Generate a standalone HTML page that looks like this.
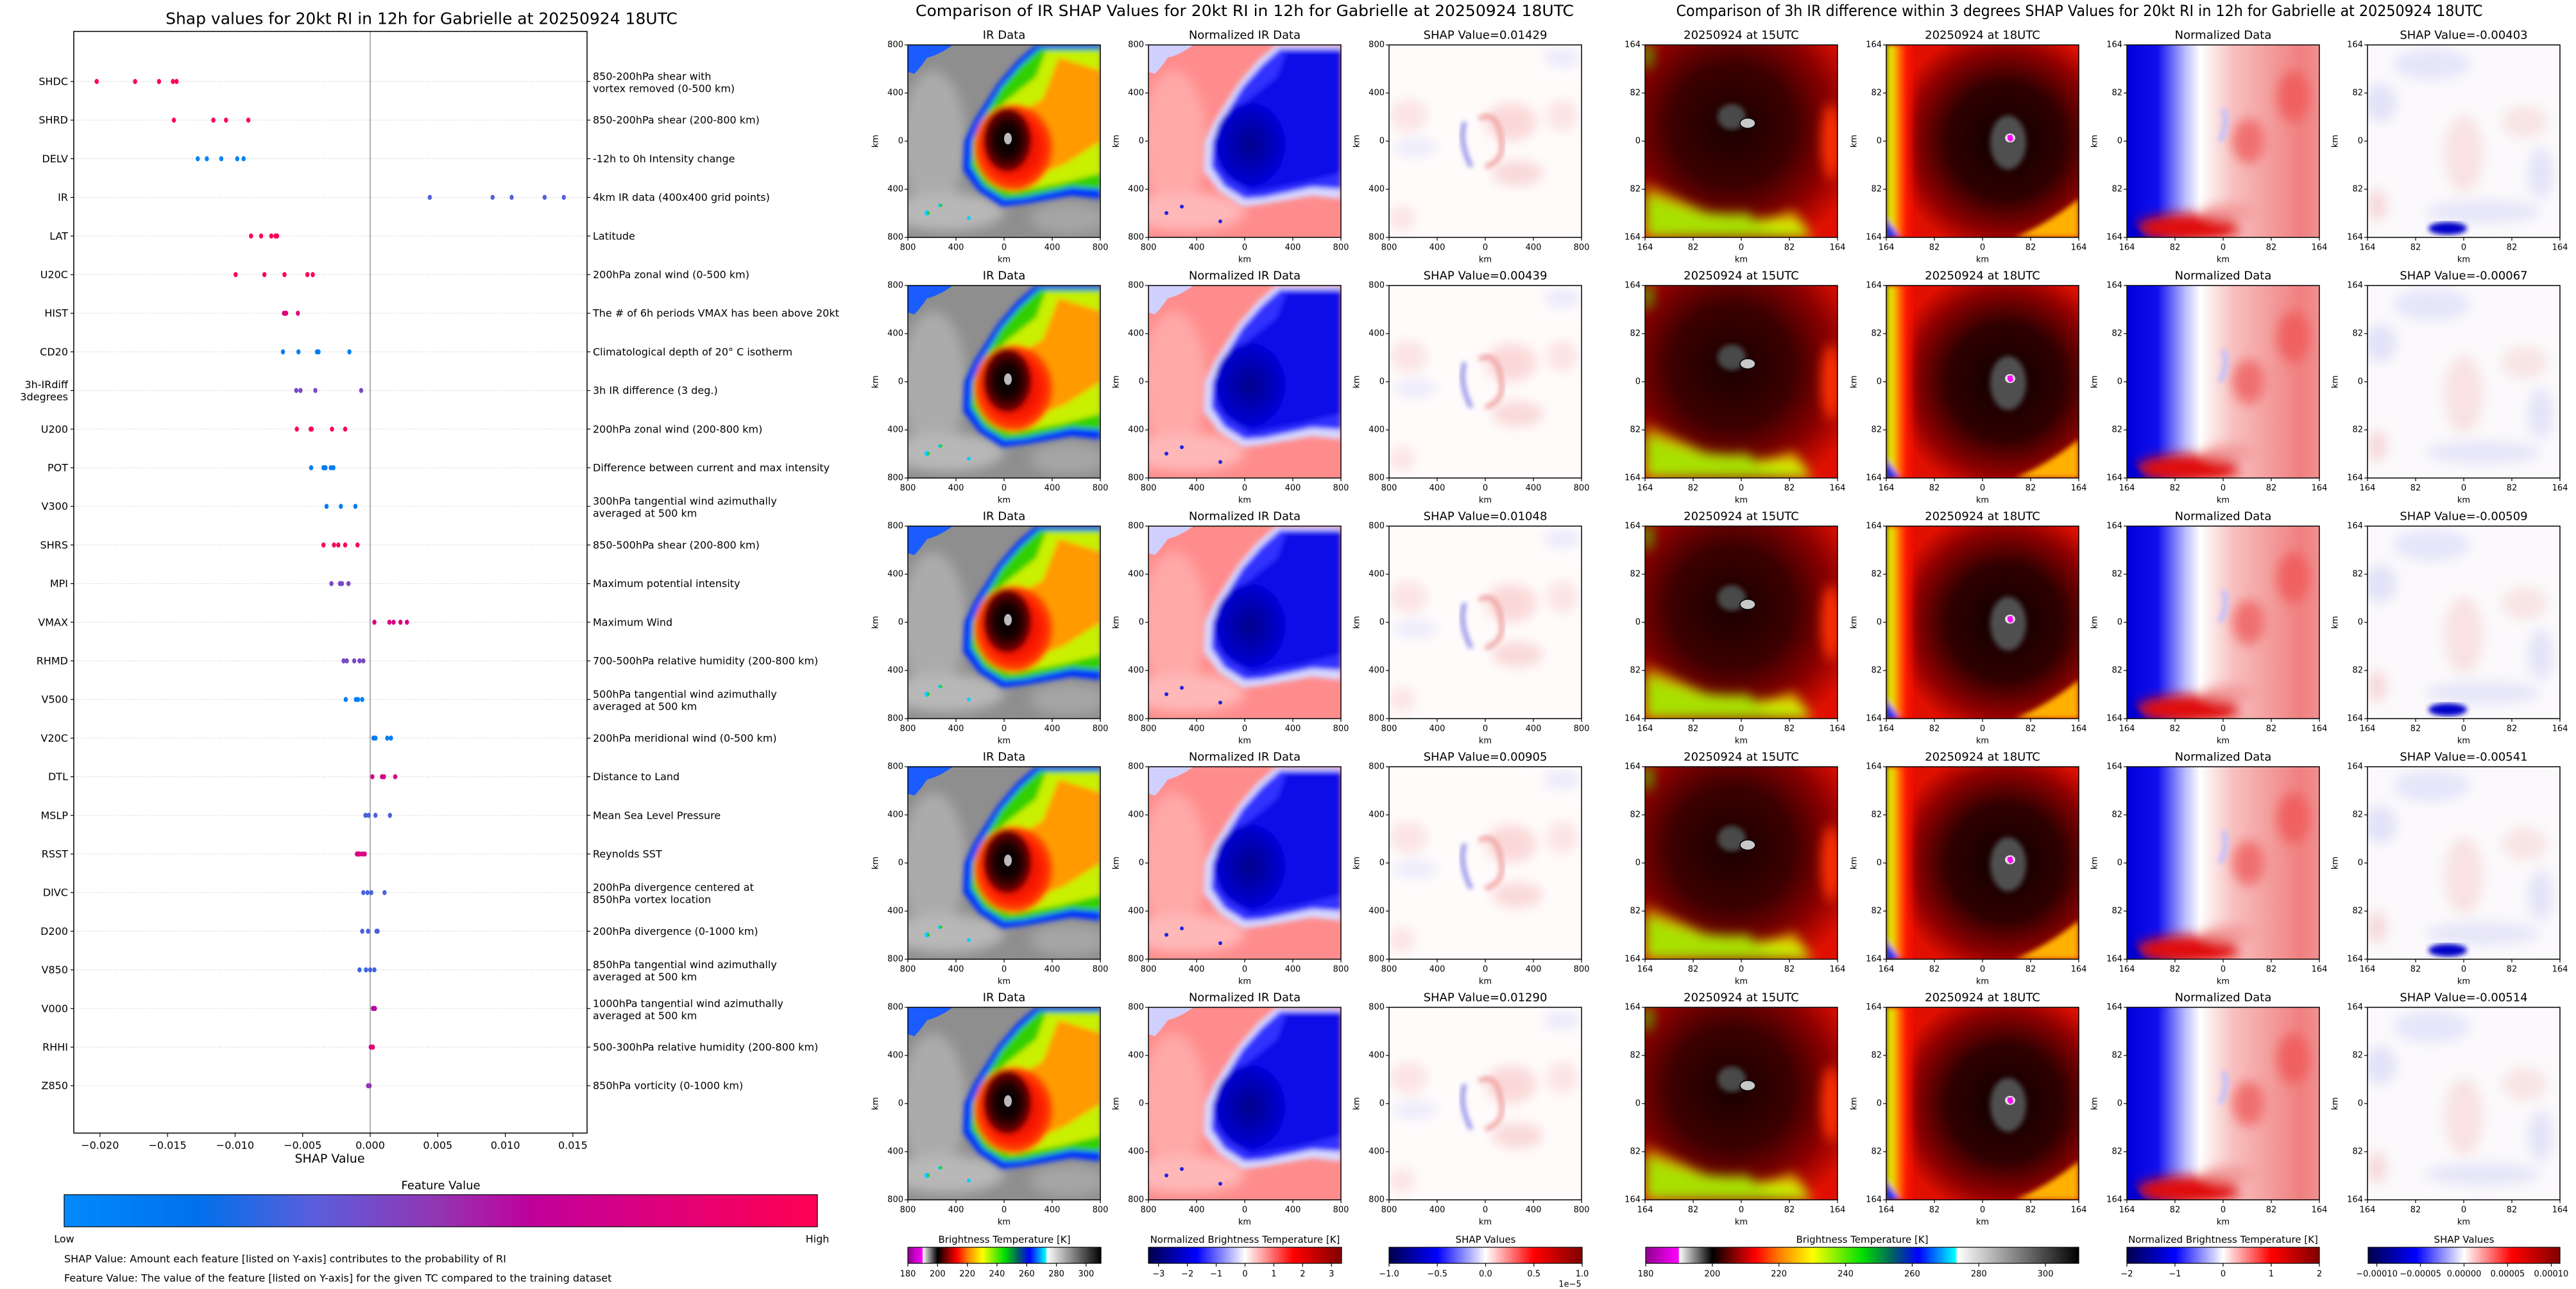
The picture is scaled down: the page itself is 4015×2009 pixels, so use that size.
<!DOCTYPE html>
<html><head><meta charset="utf-8"><title>Gabrielle SHAP</title>
<style>
html,body{margin:0;padding:0;background:#fff;}
svg{display:block;font-family:"DejaVu Sans","Liberation Sans",sans-serif;}
</style></head>
<body>
<svg id="fig" xmlns="http://www.w3.org/2000/svg" width="4015" height="2009" viewBox="0 0 4015 2009">
<defs>
<filter id="soft" x="-10%" y="-10%" width="120%" height="120%"><feGaussianBlur stdDeviation="4"/></filter>
<filter id="soft2" x="-10%" y="-10%" width="120%" height="120%"><feGaussianBlur stdDeviation="9"/></filter>
<linearGradient id="fvGrad" x1="0" x2="1" y1="0" y2="0">
<stop offset="0" stop-color="#008afb"/><stop offset="0.18" stop-color="#0070ea"/><stop offset="0.33" stop-color="#5a5edc"/><stop offset="0.5" stop-color="#9434b0"/><stop offset="0.62" stop-color="#c0009b"/><stop offset="0.8" stop-color="#e0007a"/><stop offset="1" stop-color="#ff0052"/>
</linearGradient>
<linearGradient id="btGrad" x1="0" x2="1" y1="0" y2="0">
<stop offset="0" stop-color="#900090"/><stop offset="0.076" stop-color="#ff00ff"/><stop offset="0.077" stop-color="#ffffff"/><stop offset="0.154" stop-color="#000000"/><stop offset="0.19" stop-color="#600000"/><stop offset="0.254" stop-color="#ff0000"/><stop offset="0.31" stop-color="#ff8000"/><stop offset="0.385" stop-color="#ffff00"/><stop offset="0.5" stop-color="#00e000"/><stop offset="0.57" stop-color="#006060"/><stop offset="0.63" stop-color="#0000ff"/><stop offset="0.715" stop-color="#00ffff"/><stop offset="0.72" stop-color="#ffffff"/><stop offset="1" stop-color="#000000"/>
</linearGradient>
<linearGradient id="seis" x1="0" x2="1" y1="0" y2="0">
<stop offset="0" stop-color="#00004c"/><stop offset="0.25" stop-color="#0000ff"/><stop offset="0.5" stop-color="#ffffff"/><stop offset="0.75" stop-color="#ff0000"/><stop offset="1" stop-color="#800000"/>
</linearGradient>
<radialGradient id="eyeGrad"><stop offset="0" stop-color="#000"/><stop offset="0.55" stop-color="#1a0000"/><stop offset="1" stop-color="#8a0000"/></radialGradient>
<radialGradient id="redCore"><stop offset="0" stop-color="#d00000"/><stop offset="0.75" stop-color="#ff2000"/><stop offset="1" stop-color="#ff6000"/></radialGradient>
<radialGradient id="nCore"><stop offset="0" stop-color="#00008a"/><stop offset="1" stop-color="#0000d8"/></radialGradient>
<radialGradient id="dark15" cx="0.45" cy="0.42" r="0.7"><stop offset="0" stop-color="#1a0000"/><stop offset="0.45" stop-color="#3c0000"/><stop offset="0.75" stop-color="#8a0000"/><stop offset="1" stop-color="#e01000"/></radialGradient>
<radialGradient id="dark18" cx="0.62" cy="0.5" r="0.6"><stop offset="0" stop-color="#100000"/><stop offset="0.5" stop-color="#300000"/><stop offset="0.8" stop-color="#900000"/><stop offset="1" stop-color="#e01000"/></radialGradient>
<linearGradient id="left18" x1="0" x2="1"><stop offset="0" stop-color="#60e000"/><stop offset="0.06" stop-color="#f0f000"/><stop offset="0.15" stop-color="#ff8000"/><stop offset="0.25" stop-color="#ff1000"/><stop offset="0.4" stop-color="#ff100000"/></linearGradient>
<linearGradient id="normR" x1="0" x2="1"><stop offset="0" stop-color="#0000d8"/><stop offset="0.16" stop-color="#1010f0"/><stop offset="0.3" stop-color="#b8b8ff"/><stop offset="0.38" stop-color="#ffffff"/><stop offset="0.55" stop-color="#f8c0c0"/><stop offset="0.9" stop-color="#f08080"/><stop offset="1" stop-color="#f09090"/></linearGradient>
<linearGradient id="ylw" x1="0" y1="1" x2="0.4" y2="0"><stop offset="0" stop-color="#40e000"/><stop offset="0.5" stop-color="#e0f000"/><stop offset="1" stop-color="#ff600000"/></linearGradient>

<symbol id="ir" viewBox="0 0 300 300">
<rect width="300" height="300" fill="#8e8e8e"/>
<g filter="url(#soft2)"><ellipse cx="40" cy="150" rx="50" ry="110" fill="#ababab"/><ellipse cx="60" cy="260" rx="90" ry="30" fill="#b8b8b8"/><ellipse cx="250" cy="270" rx="60" ry="25" fill="#a5a5a5"/></g>
<path d="M0 0H70Q50 15 30 20Q20 35 10 45L0 42Z" fill="#1a5cff"/>
<g filter="url(#soft)">
<path d="M199 0H300V240L255 235L180 248L147 252L110 228L86 196L88 150L103 118L140 60L170 25Z" fill="#0030ff"/>
<path d="M205 6H300V225L255 222L180 238L150 240L118 220L98 190L100 150L112 122L146 66L176 32Z" fill="#30d000"/>
<path d="M215 10H300V200L240 215L160 230L130 210L112 180L118 140L150 90L200 50Z" fill="#c8f000"/>
<path d="M235 20L300 40V150L245 185L175 215L140 195L130 160L155 115L210 85Z" fill="#ff9a00"/>
<ellipse cx="165" cy="160" rx="62" ry="68" fill="url(#redCore)"/>
<ellipse cx="155" cy="148" rx="38" ry="50" fill="url(#eyeGrad)"/>
</g>
<ellipse cx="156" cy="146" rx="6" ry="9" fill="#bbb"/>
<g fill="#00d0ff"><circle cx="30" cy="262" r="4"/><circle cx="50" cy="250" r="3"/><circle cx="95" cy="270" r="3"/></g>
<g fill="#30d000"><circle cx="32" cy="262" r="2"/><circle cx="52" cy="250" r="2"/></g>
</symbol>

<symbol id="nir" viewBox="0 0 300 300">
<rect width="300" height="300" fill="#ff8c8c"/>
<g filter="url(#soft2)"><ellipse cx="40" cy="150" rx="50" ry="110" fill="#ffa8a8"/><ellipse cx="60" cy="260" rx="90" ry="30" fill="#ffb8b8"/></g>
<path d="M0 0H70Q50 15 30 20Q20 35 10 45L0 42Z" fill="#d0d0ff"/>
<g filter="url(#soft)">
<path d="M199 0H300V240L255 235L180 248L147 252L110 228L86 196L88 150L103 118L140 60L170 25Z" fill="#d8d8ff"/>
<path d="M205 6H300V225L255 222L180 238L150 240L118 220L98 190L100 150L112 122L146 66L176 32Z" fill="#3030ff"/>
<path d="M215 10H300V200L240 215L160 230L130 210L112 180L118 140L150 90L200 50Z" fill="#0808e8"/>
<ellipse cx="158" cy="155" rx="55" ry="65" fill="url(#nCore)"/>
</g>
<g fill="#2020e0"><circle cx="28" cy="262" r="3"/><circle cx="52" cy="252" r="3"/><circle cx="112" cy="275" r="3"/></g>
</symbol>

<symbol id="shapm" viewBox="0 0 300 300">
<rect width="300" height="300" fill="#fffbfb"/>
<g filter="url(#soft2)" opacity="0.8">
<ellipse cx="190" cy="120" rx="40" ry="30" fill="#fad0d0"/>
<ellipse cx="30" cy="110" rx="30" ry="25" fill="#fbdede"/>
<ellipse cx="270" cy="110" rx="25" ry="25" fill="#fbdede"/>
<ellipse cx="200" cy="200" rx="40" ry="20" fill="#f8d0d0"/>
<ellipse cx="40" cy="160" rx="35" ry="15" fill="#e8e8fb"/>
<ellipse cx="270" cy="20" rx="30" ry="15" fill="#e6e6fb"/>
<ellipse cx="20" cy="270" rx="20" ry="20" fill="#fbdede"/>
</g>
<g filter="url(#soft)"><path d="M118 120Q108 150 128 190" stroke="#8080e8" stroke-width="6" fill="none"/><path d="M140 115Q170 100 175 150Q180 180 150 190" stroke="#f0a0a0" stroke-width="7" fill="none"/></g>
</symbol>

<symbol id="t15" viewBox="0 0 300 300">
<rect width="300" height="300" fill="#e01000"/>
<rect width="300" height="300" fill="url(#dark15)"/>
<g filter="url(#soft2)"><path d="M0 210Q60 250 120 270Q200 280 230 255L260 300H0Z" fill="url(#ylw)"/><path d="M0 230Q80 270 160 262L200 300H0Z" fill="#a8e000"/><path d="M0 0H10V30L0 40Z" fill="#40e000"/><ellipse cx="290" cy="150" rx="15" ry="60" fill="#ff3000"/></g>
<g filter="url(#soft)"><ellipse cx="135" cy="112" rx="22" ry="20" fill="#4a4a4a"/></g>
<ellipse cx="160" cy="122" rx="12" ry="8" fill="#c8c8c8" stroke="#000" stroke-width="1.5"/>
</symbol>

<symbol id="t18" viewBox="0 0 300 300">
<rect width="300" height="300" fill="#e01000"/>
<rect width="300" height="300" fill="url(#dark18)"/>
<g filter="url(#soft)"><rect width="120" height="300" fill="url(#left18)"/><path d="M0 270L0 300H20Z" fill="#0040ff"/><path d="M300 240V300H200Q250 280 300 240Z" fill="#ffb000"/></g>
<g filter="url(#soft)"><ellipse cx="190" cy="152" rx="28" ry="42" fill="#505050"/></g>
<ellipse cx="193" cy="145" rx="8" ry="7" fill="#e0e0e0"/>
<path d="M189 141L196 140L198 148L193 151L189 147Z" fill="#ff00ff"/>
</symbol>

<symbol id="nd" viewBox="0 0 300 300">
<rect width="300" height="300" fill="url(#normR)"/>
<g filter="url(#soft2)"><ellipse cx="95" cy="285" rx="80" ry="22" fill="#e01010"/><ellipse cx="260" cy="80" rx="25" ry="40" fill="#f06060"/><ellipse cx="190" cy="150" rx="25" ry="35" fill="#f07070"/><ellipse cx="160" cy="260" rx="40" ry="12" fill="#f29a9a"/></g>
<g filter="url(#soft)"><path d="M0 250Q10 290 30 300H0Z" fill="#0000d0"/><path d="M150 100Q160 120 145 150" stroke="#c0c0ff" stroke-width="8" fill="none"/></g>
</symbol>

<symbol id="shr" viewBox="0 0 300 300">
<rect width="300" height="300" fill="#fbf9fb"/>
<g filter="url(#soft2)" opacity="0.9">
<ellipse cx="100" cy="30" rx="60" ry="25" fill="#e4e4fa"/><ellipse cx="20" cy="90" rx="25" ry="30" fill="#e0e0f8"/><ellipse cx="150" cy="170" rx="30" ry="60" fill="#f8e0e0"/><ellipse cx="245" cy="120" rx="35" ry="25" fill="#f8e2e2"/><ellipse cx="180" cy="260" rx="90" ry="18" fill="#e4e4f8"/><ellipse cx="270" cy="200" rx="20" ry="40" fill="#e2e2f8"/><ellipse cx="15" cy="250" rx="15" ry="25" fill="#f6d6d6"/>
</g>
</symbol>
<symbol id="shrblob" viewBox="0 0 300 300"><g filter="url(#soft)"><ellipse cx="125" cy="286" rx="30" ry="10" fill="#0000c8"/></g></symbol>
</defs>
<rect width="4015" height="2009" fill="#fff"/>
<g id="left"></g>
<g id="mid"></g>
<g id="right"></g>
</svg>
<script>
const features=["SHDC","SHRD","DELV","IR","LAT","U20C","HIST","CD20","3h-IRdiff\n3degrees","U200","POT","V300","SHRS","MPI","VMAX","RHMD","V500","V20C","DTL","MSLP","RSST","DIVC","D200","V850","V000","RHHI","Z850"];
const descriptions=["850-200hPa shear with\nvortex removed (0-500 km)","850-200hPa shear (200-800 km)","-12h to 0h Intensity change","4km IR data (400x400 grid points)","Latitude","200hPa zonal wind (0-500 km)","The # of 6h periods VMAX has been above 20kt","Climatological depth of 20° C isotherm","3h IR difference (3 deg.)","200hPa zonal wind (200-800 km)","Difference between current and max intensity","300hPa tangential wind azimuthally\naveraged at 500 km","850-500hPa shear (200-800 km)","Maximum potential intensity","Maximum Wind","700-500hPa relative humidity (200-800 km)","500hPa tangential wind azimuthally\naveraged at 500 km","200hPa meridional wind (0-500 km)","Distance to Land","Mean Sea Level Pressure","Reynolds SST","200hPa divergence centered at\n850hPa vortex location","200hPa divergence (0-1000 km)","850hPa tangential wind azimuthally\naveraged at 500 km","1000hPa tangential wind azimuthally\naveraged at 500 km","500-300hPa relative humidity (200-800 km)","850hPa vorticity (0-1000 km)"];
const shapValues=[
[-0.02024,-0.0174,-0.01563,-0.0146,-0.01433],
[-0.01453,-0.01161,-0.01067,-0.00902],
[-0.01276,-0.01209,-0.01102,-0.00984,-0.00937],
[0.00441,0.00906,0.01047,0.01291,0.01433],
[-0.00882,-0.00807,-0.00732,-0.00701,-0.00689],
[-0.00996,-0.00783,-0.00634,-0.00465,-0.00425],
[-0.00638,-0.0063,-0.00622,-0.00535],
[-0.00646,-0.00531,-0.00394,-0.00382,-0.00154],
[-0.00547,-0.00516,-0.00406,-0.00067],
[-0.00543,-0.00441,-0.00433,-0.00283,-0.00185],
[-0.00437,-0.00346,-0.00331,-0.00291,-0.00272],
[-0.00323,-0.00217,-0.0011],
[-0.00346,-0.00268,-0.00236,-0.00185,-0.00094],
[-0.00287,-0.00224,-0.00209,-0.00161],
[0.00031,0.00142,0.00173,0.00224,0.00272],
[-0.00197,-0.00173,-0.00118,-0.00079,-0.00051],
[-0.00181,-0.00106,-0.0009,-0.00059],
[0.00024,0.00039,0.00126,0.00154],
[0.00016,0.00087,0.00102,0.00185],
[-0.00035,-0.00012,0.00039,0.00146],
[-0.00098,-0.0009,-0.0008,-0.0006,-0.0004],
[-0.00051,-0.0002,0.00008,0.00106],
[-0.00059,-0.00016,0.00047,0.00055],
[-0.00079,-0.00031,0,0.00031],
[0.0002,0.00028,0.00035],
[0.00004,0.00012,0.0002],
[-0.00016,-0.00008,-0.00004]];
const featureLevels=[1,1,0.05,0.32,0.98,0.98,0.8,0.08,0.42,0.98,0.1,0.1,0.98,0.42,0.75,0.42,0.08,0.08,0.75,0.3,0.75,0.3,0.3,0.28,0.6,0.8,0.5];
const xTicks=[-0.020,-0.015,-0.010,-0.005,0.000,0.005,0.010,0.015];
const midShap=["0.01429","0.00439","0.01048","0.00905","0.01290"];
const rightShap=["-0.00403","-0.00067","-0.00509","-0.00541","-0.00514"];
const kmTicksMid=["800","400","0","400","800"];
const kmTicksRight=["164","82","0","82","164"];
const btTicks=[180,200,220,240,260,280,300];
const nbtTicksMid=[-3,-2,-1,0,1,2,3];
const shapTicksMid=[-1.0,-0.5,0.0,0.5,1.0];
const nbtTicksRight=[-2,-1,0,1,2];
const shapTicksRight=[-0.0001,-0.00005,0,0.00005,0.0001];

const NS="http://www.w3.org/2000/svg";
function mk(tag,attrs,parent,name){
  const e=document.createElementNS(NS,tag);
  for(const k in attrs)e.setAttribute(k,attrs[k]);
  
  
  parent.appendChild(e);return e;
}
function txt(s,x,y,size,anchor,parent,name,extra){
  const a={x:x,y:y,'font-size':size,'text-anchor':anchor||'middle','dominant-baseline':'central',fill:'#000'};
  if(extra)for(const k in extra)a[k]=extra[k];
  const t=mk('text',a,parent,name);t.textContent=s;return t;
}
const L=document.getElementById('left');
const AX={l:115,r:915,t:49,b:1766};
function xScale(v){return 577+v/0.005*105.3;}
function yScale(i){return 127+i*60.2;}
const cmapStops=[[0,[0,138,251]],[0.18,[0,112,234]],[0.33,[90,94,220]],[0.5,[148,52,176]],[0.62,[192,0,155]],[0.8,[224,0,122]],[1,[255,0,82]]];
function cmap(t){for(let i=1;i<cmapStops.length;i++){const a=cmapStops[i-1],b=cmapStops[i];if(t<=b[0]){const f=(t-a[0])/(b[0]-a[0]);const c=a[1].map((v,j)=>Math.round(v+(b[1][j]-v)*f));return 'rgb('+c.join(',')+')';}}return 'rgb(255,0,82)';}
txt('Shap values for 20kt RI in 12h for Gabrielle at 20250924 18UTC',657,29,25,'middle',L,'left-chart-title');
features.forEach((f,i)=>{
  const y=yScale(i);
  mk('line',{x1:AX.l,x2:AX.r,y1:y,y2:y,stroke:'#cccccc','stroke-width':1.2,'stroke-dasharray':'1.5 3'},L,'grid-line');
  mk('line',{x1:AX.l-5,x2:AX.l,y1:y,y2:y,stroke:'#000','stroke-width':1.2},L,'y-tick');
  mk('line',{x1:AX.r,x2:AX.r+5,y1:y,y2:y,stroke:'#000','stroke-width':1.2},L,'y-tick-right');
  const fl=f.split('\n');
  fl.forEach((s,k)=>txt(s,AX.l-9,y+(fl.length>1?(k===0?-9:10):0),16,'end',L,'feature-label'));
  const dl=descriptions[i].split('\n');
  dl.forEach((s,k)=>txt(s,AX.r+9,y+(dl.length>1?(k===0?-8:11):0),16,'start',L,'feature-description'));
});
mk('line',{x1:xScale(0),x2:xScale(0),y1:AX.t,y2:AX.b,stroke:'#999','stroke-width':1.5},L,'zero-line');
shapValues.forEach((vals,i)=>{
  vals.forEach(v=>{
    mk('ellipse',{cx:xScale(v),cy:yScale(i),rx:3.2,ry:4,fill:cmap(featureLevels[i])},L,'shap-dot');
  });
});
mk('rect',{x:AX.l,y:AX.t,width:AX.r-AX.l,height:AX.b-AX.t,fill:'none',stroke:'#000','stroke-width':1.5},L,'axes-frame');
xTicks.forEach(v=>{
  const x=xScale(v);
  mk('line',{x1:x,x2:x,y1:AX.b,y2:AX.b+6,stroke:'#000','stroke-width':1.2},L,'x-tick');
  txt((v<0?'\u2212':'')+Math.abs(v).toFixed(3),x,AX.b+19,16,'middle',L,'x-tick-label');
});
txt('SHAP Value',514,1806,19,'middle',L,'x-axis-title');
txt('Feature Value',687,1848,18,'middle',L,'colorbar-title');
mk('rect',{x:100,y:1862,width:1174,height:50,fill:'url(#fvGrad)',stroke:'#000','stroke-width':1.2},L,'feature-value-colorbar');
txt('Low',100,1931,16,'middle',L,'colorbar-low-label');
txt('High',1274,1931,16,'middle',L,'colorbar-high-label');
txt('SHAP Value: Amount each feature [listed on Y-axis] contributes to the probability of RI',100,1962,16,'start',L,'shap-value-note');
txt('Feature Value: The value of the feature [listed on Y-axis] for the given TC compared to the training dataset',100,1992,16,'start',L,'feature-value-note');

function panel(parent,x,y,sym,title,ticks,ylab,name){
  const g=mk('g',{transform:'translate('+x+','+y+')'},parent,name);
  mk('use',{href:'#'+sym,width:300,height:300},g,'panel-image');
  if(sym==='shr' && (title.indexOf('00403')>=0||title.indexOf('00509')>=0||title.indexOf('00541')>=0))mk('use',{href:'#shrblob',width:300,height:300},g,'shap-blob');
  mk('rect',{x:0,y:0,width:300,height:300,fill:'none',stroke:'#000','stroke-width':1.5},g,'panel-frame');
  txt(title,150,-15,18,'middle',g,'panel-title');
  ticks.forEach((t,k)=>{
    const p=k*75;
    mk('line',{x1:-5,x2:0,y1:p,y2:p,stroke:'#000','stroke-width':1.2},g,'y-tick');
    txt(t,-7,p,13,'end',g,'y-tick-label');
    mk('line',{x1:p,x2:p,y1:300,y2:305,stroke:'#000','stroke-width':1.2},g,'x-tick');
    txt(t,p,316,13,'middle',g,'x-tick-label');
  });
  txt('km',150,335,13,'middle',g,'x-axis-label');
  if(ylab)txt('km',-50,150,13,'middle',g,'y-axis-label',{transform:'rotate(-90 -50 150)'});
}
const M=document.getElementById('mid');
const R=document.getElementById('right');
txt('Comparison of IR SHAP Values for 20kt RI in 12h for Gabrielle at 20250924 18UTC',1940,17,24,'middle',M,'middle-title',{textLength:1026,lengthAdjust:'spacingAndGlyphs'});
txt('Comparison of 3h IR difference within 3 degrees SHAP Values for 20kt RI in 12h for Gabrielle at 20250924 18UTC',3241,17,24,'middle',R,'right-title',{textLength:1257,lengthAdjust:'spacingAndGlyphs'});
const midX=[1415,1790,2165];const rightX=[2564,2940,3315,3690];
for(let r=0;r<5;r++){
  const y=70+375*r;
  panel(M,midX[0],y,'ir','IR Data',kmTicksMid,true,'ir-data-panel');
  panel(M,midX[1],y,'nir','Normalized IR Data',kmTicksMid,true,'normalized-ir-panel');
  panel(M,midX[2],y,'shapm','SHAP Value='+midShap[r],kmTicksMid,true,'ir-shap-panel');
  panel(R,rightX[0],y,'t15','20250924 at 15UTC',kmTicksRight,false,'ir-15utc-panel');
  panel(R,rightX[1],y,'t18','20250924 at 18UTC',kmTicksRight,true,'ir-18utc-panel');
  panel(R,rightX[2],y,'nd','Normalized Data',kmTicksRight,true,'normalized-diff-panel');
  panel(R,rightX[3],y,'shr','SHAP Value='+rightShap[r],kmTicksRight,true,'diff-shap-panel');
}
function cbar(parent,x,w,grad,title,ticks,lo,hi,fmt,name){
  const g=mk('g',{},parent,name);
  txt(title,x+w/2,1932,15,'middle',g,'colorbar-title');
  mk('rect',{x:x,y:1944,width:w,height:25,fill:'url(#'+grad+')',stroke:'#000','stroke-width':1.2},g,'colorbar');
  ticks.forEach(t=>{
    const px=x+(t-lo)/(hi-lo)*w;
    mk('line',{x1:px,x2:px,y1:1969,y2:1974,stroke:'#000','stroke-width':1.2},g,'colorbar-tick');
    txt(fmt(t),px,1986,13,'middle',g,'colorbar-tick-label');
  });
}
const neg=s=>s.replace('-','\u2212');
cbar(M,1415,301,'btGrad','Brightness Temperature [K]',btTicks,180,310,t=>String(t),'bt-colorbar');
cbar(M,1790,301,'seis','Normalized Brightness Temperature [K]',nbtTicksMid,-3.35,3.35,t=>neg(String(t)),'nbt-colorbar');
cbar(M,2165,301,'seis','SHAP Values',shapTicksMid,-1,1,t=>neg(t.toFixed(1)),'shap-colorbar');
txt('1e\u22125',2447,2002,13,'middle',M,'colorbar-offset-label');
cbar(R,2565,675,'btGrad','Brightness Temperature [K]',btTicks,180,310,t=>String(t),'bt-colorbar-right');
cbar(R,3315,300,'seis','Normalized Brightness Temperature [K]',nbtTicksRight,-2,2,t=>neg(String(t)),'nbt-colorbar-right');
cbar(R,3691,299,'seis','SHAP Values',shapTicksRight,-0.00011,0.00011,t=>neg(t.toFixed(5)),'shap-colorbar-right');
</script>
</body></html>
